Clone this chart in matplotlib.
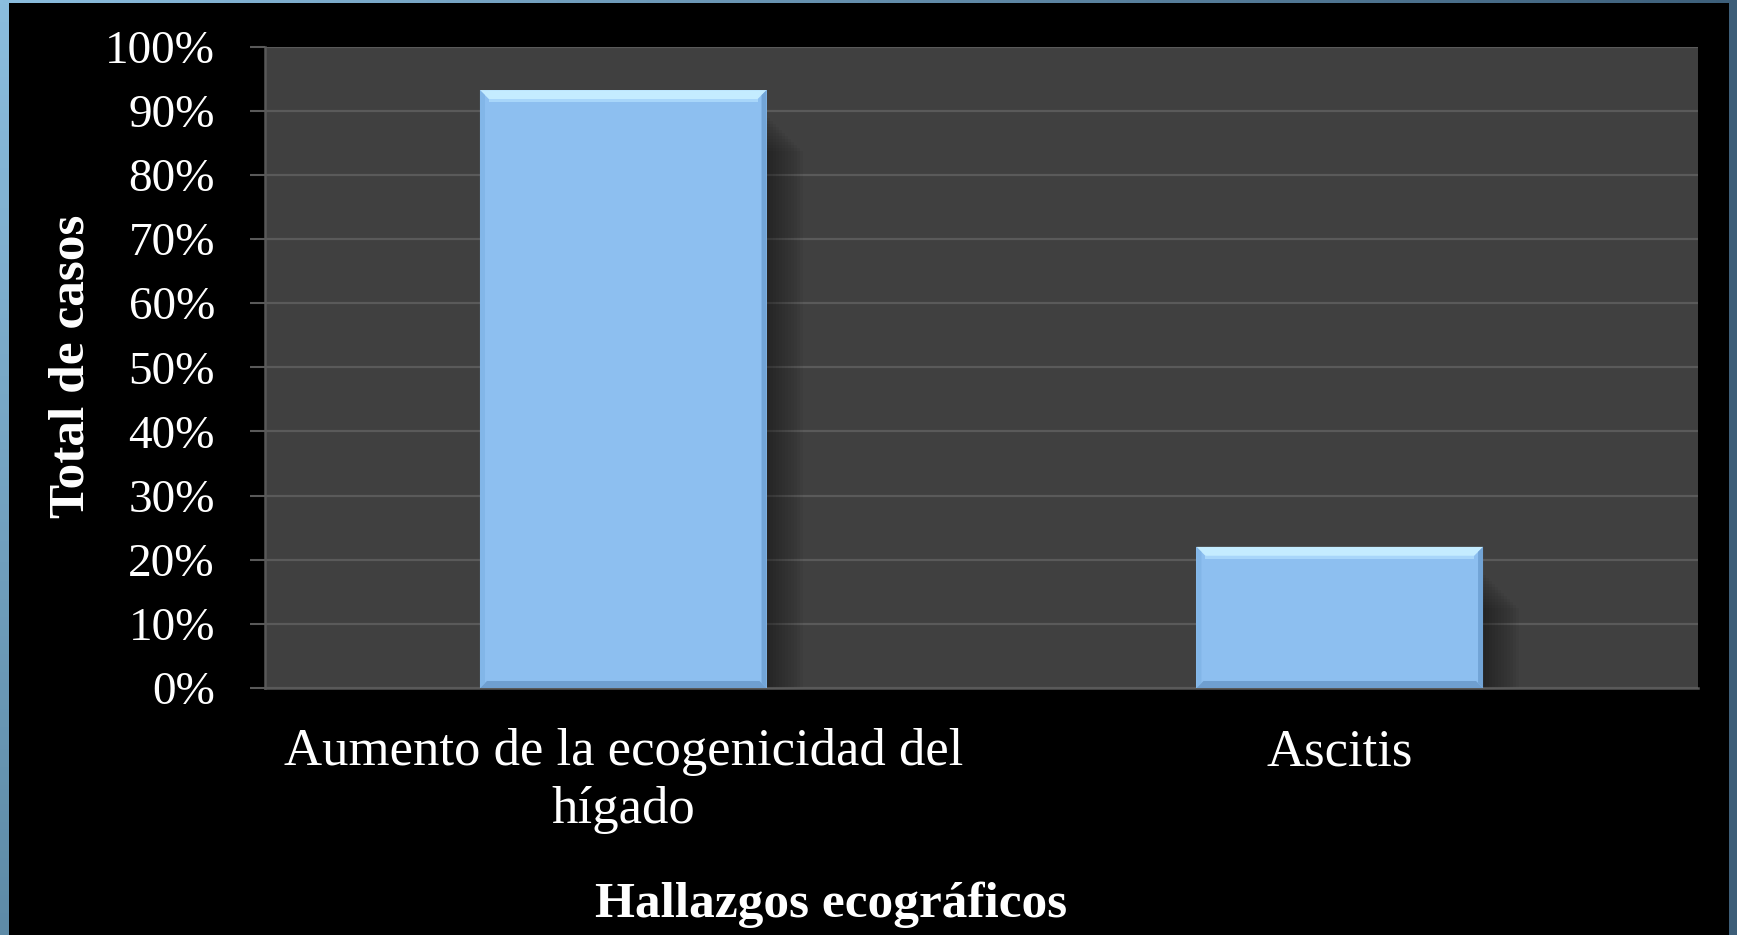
import numpy as np
import matplotlib.pyplot as plt
from matplotlib.patches import Polygon, Rectangle

plt.rcParams['font.family'] = ['Liberation Serif', 'DejaVu Serif']

# datos
categorias = ['Aumento de la ecogenicidad del\nhígado', 'Ascitis']
porcentajes = [93.2, 22.0]
yticks = np.arange(0, 101, 10)
ytick_labels = ['%d%%' % v for v in yticks]

W, H = 1737, 935
fig = plt.figure(figsize=(W / 100, H / 100), dpi=100, facecolor='black')

# marco azul (izquierda, arriba, derecha)
grad = np.linspace(0, 1, 256)
ax_l = fig.add_axes([0, 0, 9 / W, 1])
ax_l.imshow(grad[:, None, None] * np.array([0x5e, 0x8b, 0xa7]) / 255
            + (1 - grad[:, None, None]) * np.array([0x8b, 0xbd, 0xde]) / 255,
            aspect='auto')
ax_l.axis('off')
ax_t = fig.add_axes([0, 1 - 3 / H, 1, 3 / H])
ax_t.imshow(grad[None, :, None] * np.array([0x3d, 0x5f, 0x7a]) / 255
            + (1 - grad[None, :, None]) * np.array([0x8b, 0xbd, 0xde]) / 255,
            aspect='auto')
ax_t.axis('off')
fig.patches.append(Rectangle((1729 / W, 0), 8 / W, 1, transform=fig.transFigure,
                             facecolor='#3d5e78', edgecolor='none'))

ax = fig.add_axes([265 / W, 1 - 688 / H, (1698 - 265) / W, (688 - 46.5) / H])
ax.set_facecolor('#404040')
x = np.arange(len(categorias))
bars = ax.bar(x, porcentajes, width=0.4, color='#8dbff0', zorder=3)
ax.set_xlim(-0.5, 1.5)
ax.set_ylim(0, 100)

ax.set_yticks(yticks)
ax.set_yticklabels(ytick_labels)
ax.set_xticks(x)
ax.set_xticklabels(categorias)
ax.tick_params(axis='y', colors='#595959', width=1.5, length=11, pad=25,
               labelcolor='white', labelsize=34)
ax.tick_params(axis='x', length=0, pad=29, labelcolor='white', labelsize=38)
for lab in ax.get_xticklabels():
    lab.set_linespacing(1.25)
ax.grid(axis='y', color='#5a5a5a', lw=1.6, zorder=1)
ax.set_axisbelow(True)
for s in ['top', 'right']:
    ax.spines[s].set_visible(False)
for s in ['left', 'bottom']:
    ax.spines[s].set_color('#595959')
    ax.spines[s].set_linewidth(1.8)

# sombra y biselado de las barras (en píxeles)
inv = ax.transData.inverted()
def poly(pts, **kw):
    ax.add_patch(Polygon(inv.transform(pts), closed=True, edgecolor='none', **kw))

for b in bars:
    x0, y0, x1, y1 = b.get_window_extent().extents
    for i in range(12):
        d = 3 + i * 3
        poly([(x1, y1 - 25 - d), (x1 + d, y1 - 25 - d), (x1 + d, y0), (x1, y0)],
             facecolor='black', alpha=0.035, zorder=2)
    e = 9
    s = 5
    poly([(x0, y1), (x1, y1), (x1 - e, y1 - e), (x0 + e, y1 - e)],
         facecolor='#c4ecff', zorder=4)
    poly([(x0 + e, y1 - e), (x1 - e, y1 - e), (x1 - e, y1 - e - 3), (x0 + e, y1 - e - 3)],
         facecolor='#a8d6fa', zorder=4)
    poly([(x0, y0), (x1, y0), (x1 - 7, y0 + 7), (x0 + 7, y0 + 7)],
         facecolor='#6f9fd0', zorder=4)
    poly([(x0, y1), (x0 + s, y1 - s), (x0 + s, y0 + s), (x0, y0)],
         facecolor='#82b6e8', zorder=4)
    poly([(x1, y1), (x1 - s, y1 - s), (x1 - s, y0 + s), (x1, y0)],
         facecolor='#72a4d6', zorder=4)

fig.text(72 / W, 1 - 366 / H, 'Total de casos', rotation=90, color='white',
         fontsize=37, fontweight='bold', ha='center', va='center')
fig.text(831 / W, 1 - 905 / H, 'Hallazgos ecográficos', color='white',
         fontsize=37, fontweight='bold', ha='center', va='center')

fig.savefig('out.png', dpi=100, facecolor='black')
